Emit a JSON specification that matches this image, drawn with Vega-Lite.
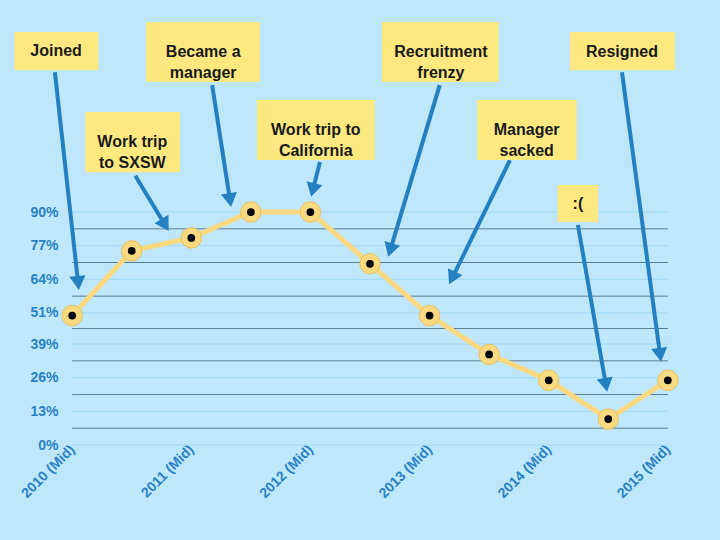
{
"$schema":"https://vega.github.io/schema/vega-lite/v6.json",
"width":660,"height":445,"autosize":"none","padding":{"left":40,"top":0,"right":20,"bottom":95},
"background":"#bfe7fc",
"config":{"view":{"stroke":null},"font":"Liberation Sans"},
"datasets":{
"pts":[{"i":0,"v":50},{"i":1,"v":75},{"i":2,"v":80},{"i":3,"v":90},{"i":4,"v":90},{"i":5,"v":70},{"i":6,"v":50},{"i":7,"v":35},{"i":8,"v":25},{"i":9,"v":10},{"i":10,"v":25}],
"grid":[{"g":0,"t":"l"},{"g":13,"t":"l"},{"g":26,"t":"l"},{"g":39,"t":"l"},{"g":51,"t":"l"},{"g":64,"t":"l"},{"g":77,"t":"l"},{"g":90,"t":"l"},{"g":6.5,"t":"d"},{"g":19.5,"t":"d"},{"g":32.5,"t":"d"},{"g":45,"t":"d"},{"g":57.5,"t":"d"},{"g":70.5,"t":"d"},{"g":83.5,"t":"d"}],
"ann":[
{"label":"Joined","bx":-0.97,"bx2":0.44,"by":159.5,"by2":144.8,"cx":-0.27,"cy":152.2,"ax":-0.29,"ay":144,"tx":0.10,"ty":62.6,"ang":174},
{"label":"Work trip\nto SXSW","bx":0.22,"bx2":1.81,"by":128.6,"by2":105.4,"cx":1.01,"cy":117,"ax":1.06,"ay":104,"tx":1.56,"ty":85,"ang":149},
{"label":"Became a\nmanager","bx":1.24,"bx2":3.15,"by":163.4,"by2":140.2,"cx":2.2,"cy":151.8,"ax":2.35,"ay":139,"tx":2.65,"ty":94.6,"ang":171},
{"label":"Work trip to\nCalifornia","bx":3.1,"bx2":5.08,"by":133.3,"by2":110.1,"cx":4.09,"cy":121.7,"ax":4.16,"ay":109.3,"tx":4.04,"ty":98.5,"ang":194},
{"label":"Recruitment\nfrenzy","bx":5.2,"bx2":7.16,"by":163.4,"by2":140.2,"cx":6.19,"cy":151.8,"ax":6.17,"ay":139,"tx":5.34,"ty":75.3,"ang":197},
{"label":"Manager\nsacked","bx":6.8,"bx2":8.47,"by":133.3,"by2":110.1,"cx":7.63,"cy":121.7,"ax":7.35,"ay":110,"tx":6.38,"ty":64.5,"ang":206},
{"label":":(","bx":8.15,"bx2":8.83,"by":100.4,"by2":86.1,"cx":8.49,"cy":93,"ax":8.49,"ay":85,"tx":8.96,"ty":23.2,"ang":170},
{"label":"Resigned","bx":8.36,"bx2":10.12,"by":159.5,"by2":144.8,"cx":9.23,"cy":152,"ax":9.23,"ay":144,"tx":9.87,"ty":34.8,"ang":172}
]},
"layer":[
{"data":{"name":"grid"},"mark":{"type":"rule","strokeWidth":1},
 "encoding":{"x":{"datum":0,"type":"quantitative","scale":{"domain":[-0.54,10.54],"nice":false,"zero":false},
   "axis":{"values":[0,1,2,3,4,5,6,7,8,9,10],"title":null,"domain":false,"ticks":false,"grid":false,"labelAngle":-45,"labelAlign":"right","labelBaseline":"middle","labelDx":38,"labelDy":31,"labelFontSize":14,"labelFontWeight":"bold","labelColor":"#2a82c4",
   "labelExpr":"['2010 (Mid)','2010 (End)','2011 (Mid)','2011 (End)','2012 (Mid)','2012 (End)','2013 (Mid)','2013 (End)','2014 (Mid)','2014 (End)','2015 (Mid)'][datum.value]"}},
  "x2":{"datum":10},
  "y":{"field":"g","type":"quantitative","scale":{"domain":[0,171.9],"nice":false},
   "axis":{"values":[0,13,26,39,51,64,77,90],"title":null,"domain":false,"ticks":false,"grid":false,"offset":-22,"labelPadding":4,"labelFontSize":14,"labelFontWeight":"bold","labelColor":"#2a82c4","labelExpr":"datum.value+'%'"}},
  "color":{"field":"t","type":"nominal","scale":{"domain":["l","d"],"range":["#9fd8f5","#5d7f95"]},"legend":null}}},
{"data":{"name":"pts"},"mark":{"type":"line","color":"#f9d97f","strokeWidth":5},
 "encoding":{"x":{"field":"i","type":"quantitative"},"y":{"field":"v","type":"quantitative"}}},
{"data":{"name":"pts"},"mark":{"type":"point","filled":true,"color":"#f9d97f","size":420,"opacity":1,"stroke":"#e8c060","strokeWidth":1},
 "encoding":{"x":{"field":"i","type":"quantitative"},"y":{"field":"v","type":"quantitative"}}},
{"data":{"name":"pts"},"mark":{"type":"point","filled":true,"color":"#000000","size":60,"opacity":1},
 "encoding":{"x":{"field":"i","type":"quantitative"},"y":{"field":"v","type":"quantitative"}}},
{"data":{"name":"ann"},"mark":{"type":"rule","color":"#2480c0","strokeWidth":4},
 "encoding":{"x":{"field":"ax","type":"quantitative"},"y":{"field":"ay","type":"quantitative"},"x2":{"field":"tx"},"y2":{"field":"ty"}}},
{"data":{"name":"ann"},"mark":{"type":"point","shape":"triangle-up","filled":true,"color":"#2480c0","size":260,"opacity":1},
 "encoding":{"x":{"field":"tx","type":"quantitative"},"y":{"field":"ty","type":"quantitative"},"angle":{"field":"ang","type":"quantitative","scale":null}}},
{"data":{"name":"ann"},"mark":{"type":"rect","color":"#fde97f"},
 "encoding":{"x":{"field":"bx","type":"quantitative"},"x2":{"field":"bx2"},"y":{"field":"by","type":"quantitative"},"y2":{"field":"by2"}}},
{"data":{"name":"ann"},"mark":{"type":"text","fontSize":16,"fontWeight":"bold","color":"#1a1a1a","lineBreak":"\n","lineHeight":21,"baseline":"middle","align":"center"},
 "encoding":{"x":{"field":"cx","type":"quantitative"},"y":{"field":"cy","type":"quantitative"},"text":{"field":"label"}}}
]}
